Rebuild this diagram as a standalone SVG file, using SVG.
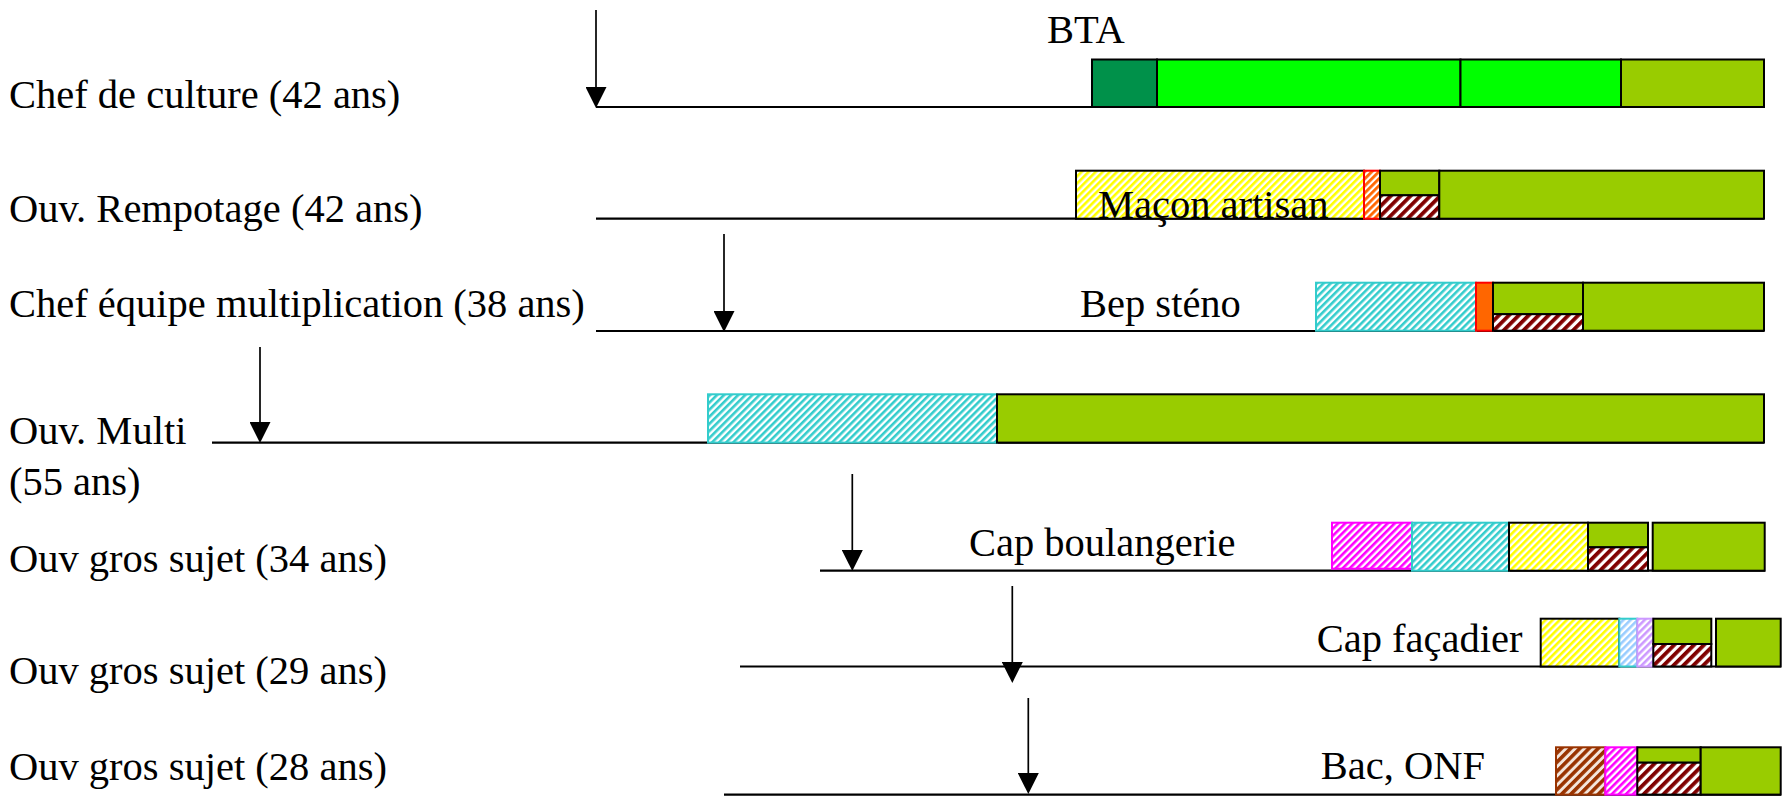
<svg xmlns="http://www.w3.org/2000/svg" width="1782" height="802" viewBox="0 0 1782 802">
<style>
.lbl{font-family:"Liberation Serif","Times New Roman",serif;font-size:40.5px;fill:#000}
.tl{stroke:#000;stroke-width:2.2;fill:none}
.bx{stroke:#000;stroke-width:2}
.ar{stroke:#000;stroke-width:1.7;fill:none;marker-end:url(#ah)}
.dg{fill:#00914A}
.bg{fill:#00FF00}
.og{fill:#99CC00}
</style>
<defs>
<marker id="ah" markerUnits="userSpaceOnUse" markerWidth="21" markerHeight="21" refX="10" refY="10.5" orient="auto" viewBox="0 0 21 21">
<path d="M0,0 L21,10.5 L0,21 z" fill="#000"/>
</marker>
<pattern id="hY" width="5" height="5" patternUnits="userSpaceOnUse" patternTransform="rotate(45)"><rect width="5" height="5" fill="#fff"/><rect width="2.6" height="5" fill="#FFFF00"/></pattern>
<pattern id="hC" width="5" height="5" patternUnits="userSpaceOnUse" patternTransform="rotate(45)"><rect width="5" height="5" fill="#fff"/><rect width="2.6" height="5" fill="#33CCCC"/></pattern>
<pattern id="hM" width="5" height="5" patternUnits="userSpaceOnUse" patternTransform="rotate(45)"><rect width="5" height="5" fill="#fff"/><rect width="2.6" height="5" fill="#FF00FF"/></pattern>
<pattern id="hO" width="5" height="5" patternUnits="userSpaceOnUse" patternTransform="rotate(45)"><rect width="5" height="5" fill="#fff"/><rect width="2.8" height="5" fill="#FF6600"/></pattern>
<pattern id="hB" width="5" height="5" patternUnits="userSpaceOnUse" patternTransform="rotate(45)"><rect width="5" height="5" fill="#fff"/><rect width="2.6" height="5" fill="#99CCFF"/></pattern>
<pattern id="hP" width="5" height="5" patternUnits="userSpaceOnUse" patternTransform="rotate(45)"><rect width="5" height="5" fill="#fff"/><rect width="2.6" height="5" fill="#CC99FF"/></pattern>
<pattern id="hR" width="7" height="7" patternUnits="userSpaceOnUse" patternTransform="rotate(45)"><rect width="7" height="7" fill="#fff"/><rect width="3.8" height="7" fill="#800000"/></pattern>
<pattern id="hBr" width="6.5" height="6.5" patternUnits="userSpaceOnUse" patternTransform="rotate(45)"><rect width="6.5" height="6.5" fill="#f4e6dc"/><rect width="3.6" height="6.5" fill="#993300"/></pattern>
</defs>

<g id="row1">
<line class="tl" x1="596" y1="107" x2="1764" y2="107"/>
<rect class="bx dg" x="1092" y="59.5" width="65" height="47.5"/>
<rect class="bx bg" x="1157" y="59.5" width="303.5" height="47.5"/>
<rect class="bx bg" x="1460.5" y="59.5" width="160.5" height="47.5"/>
<rect class="bx og" x="1621" y="59.5" width="143" height="47.5"/>
<text class="lbl" x="9" y="108">Chef de culture (42 ans)</text>
<text class="lbl" x="1047" y="43">BTA</text>
</g>

<g id="row2">
<line class="tl" x1="596" y1="218.7" x2="1764" y2="218.7"/>
<rect x="1076" y="170.7" width="288" height="48" fill="url(#hY)" stroke="#000" stroke-width="2"/>
<rect x="1364" y="170.7" width="16" height="48" fill="url(#hO)" stroke="#FF0000" stroke-width="2"/>
<rect class="bx og" x="1380" y="170.7" width="59.3" height="24.6"/>
<rect x="1380" y="195.3" width="59.3" height="23.4" fill="url(#hR)" stroke="#000" stroke-width="2"/>
<rect class="bx og" x="1439.3" y="170.7" width="324.7" height="48"/>
<text class="lbl" x="9" y="221.7">Ouv. Rempotage (42 ans)</text>
<text class="lbl" x="1098" y="218">Maçon artisan</text>
</g>

<g id="row3">
<line class="tl" x1="596" y1="331" x2="1764" y2="331"/>
<rect x="1316" y="282.7" width="160" height="48" fill="url(#hC)" stroke="#33CCCC" stroke-width="2"/>
<rect x="1476" y="282.7" width="17" height="48" fill="#FF6600" stroke="#FF0000" stroke-width="2"/>
<rect class="bx og" x="1493" y="282.7" width="90" height="31.5"/>
<rect x="1493" y="314.2" width="90" height="16.5" fill="url(#hR)" stroke="#000" stroke-width="2"/>
<rect class="bx og" x="1583" y="282.7" width="181" height="48"/>
<text class="lbl" x="9" y="316.7">Chef équipe multiplication (38 ans)</text>
<text class="lbl" x="1080" y="316.7">Bep sténo</text>
</g>

<g id="row4">
<line class="tl" x1="212" y1="442.6" x2="1764" y2="442.6"/>
<rect x="708" y="394.3" width="289" height="48.3" fill="url(#hC)" stroke="#33CCCC" stroke-width="2"/>
<rect class="bx og" x="997" y="394.3" width="767" height="48.3"/>
<text class="lbl" x="9" y="444">Ouv. Multi</text>
<text class="lbl" x="9" y="495">(55 ans)</text>
</g>

<g id="row5">
<line class="tl" x1="820" y1="570.7" x2="1765" y2="570.7"/>
<rect x="1332" y="522.7" width="80" height="46" fill="url(#hM)" stroke="#FF00FF" stroke-width="2"/>
<rect x="1412" y="522.7" width="97" height="48" fill="url(#hC)" stroke="#33CCCC" stroke-width="2"/>
<rect x="1509" y="522.7" width="79" height="48" fill="url(#hY)" stroke="#000" stroke-width="2"/>
<rect class="bx og" x="1588" y="522.7" width="60" height="24.6"/>
<rect x="1588" y="547.3" width="60" height="23.4" fill="url(#hR)" stroke="#000" stroke-width="2"/>
<rect class="bx og" x="1652.7" y="522.7" width="112" height="48"/>
<text class="lbl" x="9" y="572.3">Ouv gros sujet (34 ans)</text>
<text class="lbl" x="969" y="556">Cap boulangerie</text>
</g>

<g id="row6">
<line class="tl" x1="740" y1="666.5" x2="1781" y2="666.5"/>
<rect x="1540.7" y="618.7" width="78.6" height="47.8" fill="url(#hY)" stroke="#000" stroke-width="2"/>
<rect x="1619.3" y="618.7" width="18" height="47.8" fill="url(#hB)" stroke="#33CCCC" stroke-width="2"/>
<rect x="1637.3" y="618.7" width="16" height="47.8" fill="url(#hP)" stroke="#CC99FF" stroke-width="2"/>
<rect class="bx og" x="1653.3" y="618.7" width="58" height="25.3"/>
<rect x="1653.3" y="644" width="58" height="22.5" fill="url(#hR)" stroke="#000" stroke-width="2"/>
<rect class="bx og" x="1716" y="618.7" width="64.7" height="47.8"/>
<text class="lbl" x="9" y="684">Ouv gros sujet (29 ans)</text>
<text class="lbl" x="1316.7" y="652">Cap façadier</text>
</g>

<g id="row7">
<line class="tl" x1="724" y1="794.6" x2="1781" y2="794.6"/>
<rect x="1556" y="747.3" width="49.3" height="47.3" fill="url(#hBr)" stroke="#993300" stroke-width="2"/>
<rect x="1605.3" y="747.3" width="32" height="47.3" fill="url(#hM)" stroke="#FF00FF" stroke-width="2"/>
<rect class="bx og" x="1637.3" y="747.3" width="63.4" height="15.4"/>
<rect x="1637.3" y="762.7" width="63.4" height="31.9" fill="url(#hR)" stroke="#000" stroke-width="2"/>
<rect class="bx og" x="1700.7" y="747.3" width="80" height="47.3"/>
<text class="lbl" x="9" y="780">Ouv gros sujet (28 ans)</text>
<text class="lbl" x="1320.7" y="779">Bac, ONF</text>
</g>

<g id="connectors">
<line class="ar" x1="596" y1="10" x2="596" y2="97"/>
<line class="ar" x1="724" y1="234" x2="724" y2="321"/>
<line class="ar" x1="260" y1="347" x2="260" y2="432"/>
<line class="ar" x1="852.3" y1="474" x2="852.3" y2="560"/>
<line class="ar" x1="1012.3" y1="586" x2="1012.3" y2="672"/>
<line class="ar" x1="1028.3" y1="698" x2="1028.3" y2="783"/>
</g>
</svg>
